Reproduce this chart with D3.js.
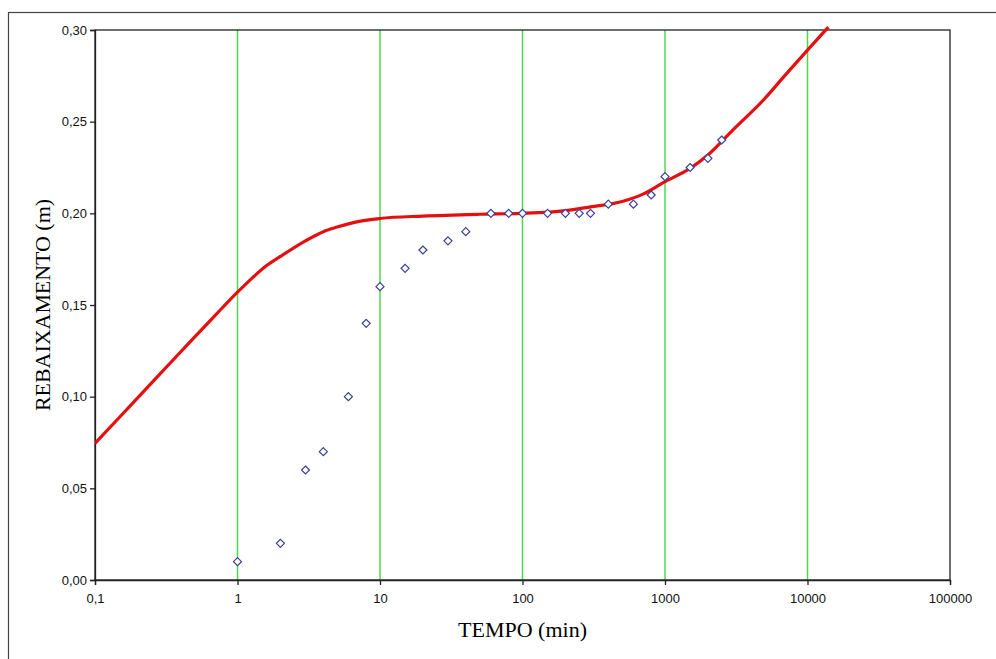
<!DOCTYPE html>
<html>
<head>
<meta charset="utf-8">
<script src="https://cdn.jsdelivr.net/npm/d3@7"></script>
<style>
  body { margin: 0; background: #fff; }
  .tick text { font-family: "Liberation Sans Narrow", "Arial Narrow", "Liberation Sans", sans-serif; font-size: 13px; fill: #111; }
  .axis-title { font-family: "Liberation Serif", "Times New Roman", serif; font-size: 22px; fill: #000; }
</style>
</head>
<body>
<div id="chart"></div>
<script>
// observed drawdown (time in min, drawdown in m)
var obsTime = [1, 2, 3, 4, 6, 8, 10, 15, 20, 30, 40, 60, 80, 100, 150, 200, 250, 300, 400, 600, 800, 1000, 1500, 2000, 2500];
var obsDraw = [0.01, 0.02, 0.06, 0.07, 0.10, 0.14, 0.16, 0.17, 0.18, 0.185, 0.19, 0.20, 0.20, 0.20, 0.20, 0.20, 0.20, 0.20, 0.205, 0.205, 0.21, 0.22, 0.225, 0.23, 0.24];

// type curve
var curveTime = [0.1, 0.2, 0.4, 0.7, 1, 1.3, 1.6, 2, 3, 4, 5, 7, 10, 20, 50, 100, 200, 300, 500, 700, 1000, 1500, 2000, 3000, 5000, 7000, 10000, 14000];
var curveDraw = [0.0745, 0.0995, 0.1245, 0.1445, 0.157, 0.1655, 0.1715, 0.1765, 0.185, 0.19, 0.1925, 0.1955, 0.1972, 0.1985, 0.1995, 0.2, 0.2015, 0.2035, 0.2065, 0.2105, 0.2173, 0.2245, 0.2318, 0.2455, 0.2625, 0.2755, 0.289, 0.3016];

var xTicks = [0.1, 1, 10, 100, 1000, 10000, 100000];
var xTickLabels = ["0,1", "1", "10", "100", "1000", "10000", "100000"];
var gridTicks = [1, 10, 100, 1000, 10000];
var yTicks = [0, 0.05, 0.10, 0.15, 0.20, 0.25, 0.30];

var width = 996, height = 659;
var margin = {top: 30, right: 46, bottom: 79, left: 95};

var svg = d3.select("#chart").append("svg")
    .attr("width", width)
    .attr("height", height);

// outer frame
svg.append("rect")
    .attr("x", 8.5).attr("y", 12.5)
    .attr("width", 1000).attr("height", 700)
    .attr("fill", "none")
    .attr("stroke", "#444")
    .attr("stroke-width", 1.2);

var x = d3.scaleLog()
    .domain([0.1, 100000])
    .range([margin.left, width - margin.right]);

var y = d3.scaleLinear()
    .domain([0, 0.30])
    .range([height - margin.bottom, margin.top]);

// vertical green grid
svg.selectAll(".grid")
    .data(gridTicks)
    .enter()
    .append("line")
    .attr("class", "grid")
    .attr("x1", d => x(d))
    .attr("x2", d => x(d))
    .attr("y1", y(0))
    .attr("y2", y(0.30))
    .style("stroke", "#4cd94c")
    .style("stroke-width", 1.5);

// plot area border (top and right)
svg.append("rect")
    .attr("x", x(0.1)).attr("y", y(0.30))
    .attr("width", x(100000) - x(0.1))
    .attr("height", y(0) - y(0.30))
    .attr("fill", "none")
    .attr("stroke", "#222")
    .attr("stroke-width", 1.3);

var fmt = d3.format(".2f");

svg.append("g")
    .attr("transform", "translate(0," + y(0) + ")")
    .call(d3.axisBottom(x).tickValues(xTicks).tickSize(5).tickPadding(9)
        .tickFormat((d, i) => xTickLabels[i]))
    .call(g => g.select(".domain").attr("stroke", "#222").attr("stroke-width", 1.3));

svg.append("g")
    .attr("transform", "translate(" + x(0.1) + ",0)")
    .call(d3.axisLeft(y).tickValues(yTicks).tickSize(5).tickPadding(3)
        .tickFormat(d => fmt(d).replace(".", ",")))
    .call(g => g.select(".domain").attr("stroke", "#222").attr("stroke-width", 1.3));

svg.selectAll(".tick line").attr("stroke", "#222").attr("stroke-width", 1.3);

// red type curve
svg.append("clipPath").attr("id", "clip")
    .append("rect")
    .attr("x", x(0.1)).attr("y", y(0.30) - 4)
    .attr("width", x(100000) - x(0.1))
    .attr("height", y(0) - y(0.30) + 4);

var line = d3.line()
    .x((d, i) => x(curveTime[i]))
    .y((d, i) => y(curveDraw[i]))
    .curve(d3.curveMonotoneX);

svg.append("path")
    .datum(curveTime)
    .attr("d", line)
    .attr("fill", "none")
    .attr("stroke", "#e41010")
    .attr("stroke-width", 3.2)
    .attr("clip-path", "url(#clip)");

// observed points as open diamonds
svg.selectAll(".obs")
    .data(obsTime)
    .enter()
    .append("path")
    .attr("class", "obs")
    .attr("transform", (d, i) => "translate(" + x(d) + "," + y(obsDraw[i]) + ")")
    .attr("d", "M0,-4L4,0L0,4L-4,0Z")
    .attr("fill", "#fff")
    .attr("stroke", "#3a3f9a")
    .attr("stroke-width", 1.2);

// axis titles
svg.append("text")
    .attr("class", "axis-title")
    .attr("x", (x(0.1) + x(100000)) / 2)
    .attr("y", 637)
    .attr("text-anchor", "middle")
    .text("TEMPO (min)");

svg.append("text")
    .attr("class", "axis-title")
    .attr("transform", "translate(50," + ((y(0) + y(0.30)) / 2) + ") rotate(-90)")
    .attr("text-anchor", "middle")
    .attr("textLength", 212)
    .attr("lengthAdjust", "spacingAndGlyphs")
    .text("REBAIXAMENTO (m)");
</script>
</body>
</html>
